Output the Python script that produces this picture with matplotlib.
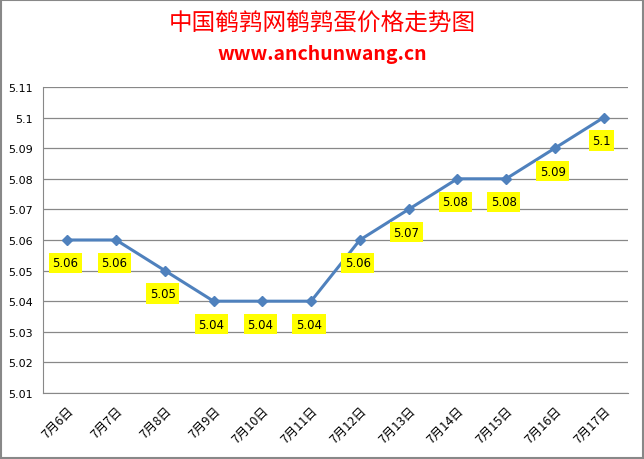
import matplotlib.pyplot as plt
from matplotlib.patches import Rectangle

plt.rcParams['font.family'] = ['Noto Sans CJK SC', 'DejaVu Sans']

# chart data
dates = ['7月6日', '7月7日', '7月8日', '7月9日', '7月10日', '7月11日',
         '7月12日', '7月13日', '7月14日', '7月15日', '7月16日', '7月17日']
prices = [5.06, 5.06, 5.05, 5.04, 5.04, 5.04, 5.06, 5.07, 5.08, 5.08, 5.09, 5.1]
y_ticks = [5.01, 5.02, 5.03, 5.04, 5.05, 5.06, 5.07, 5.08, 5.09, 5.1, 5.11]

fig = plt.figure(figsize=(6.44, 4.6), dpi=100)
ax = fig.add_axes([0.0668, 0.1435, 0.9082, 0.6652])

x = list(range(len(dates)))
ax.plot(x, prices, color='#4F81BD', linewidth=2.2, marker='D', markersize=5.5,
        zorder=3)

for xi, p in zip(x, prices):
    ax.annotate('%g' % p, xy=(xi, p), xytext=(-1.5, -16.5), textcoords='offset points',
                ha='center', va='center', fontsize=8.5, family='DejaVu Sans',
                bbox=dict(boxstyle='square,pad=0.3', fc='#FFFF00', ec='none'),
                zorder=4)

ax.set_xlim(-0.5, len(dates) - 0.5)
ax.set_ylim(5.01, 5.11)
ax.set_yticks(y_ticks)
ax.set_yticklabels(['%g' % v for v in y_ticks], fontsize=8, family='DejaVu Sans')
ax.set_xticks(x)
ax.set_xticklabels(dates, rotation=45, ha='right', va='top', fontsize=9,
                   rotation_mode='anchor')
ax.tick_params(axis='y', length=0, pad=7)
ax.tick_params(axis='x', length=0, pad=8)
ax.grid(axis='y', color='#888888', linewidth=0.9)
ax.set_axisbelow(True)
for s in ['top', 'right']:
    ax.spines[s].set_visible(False)
for s in ['left', 'bottom']:
    ax.spines[s].set_color('#888888')

fig.text(0.5, 0.948, '中国鹌鹑网鹌鹑蛋价格走势图', ha='center', va='center',
         color='#FF0000', fontsize=17)
fig.text(0.5, 0.882, 'www.anchunwang.cn', ha='center', va='center',
         color='#FF0000', fontsize=14, fontweight='bold')

fig.patches.append(Rectangle((0.0015, 0.002), 0.997, 0.996, transform=fig.transFigure,
                             fill=False, ec='#888888', lw=1.5))

fig.savefig('out.png', dpi=100)
